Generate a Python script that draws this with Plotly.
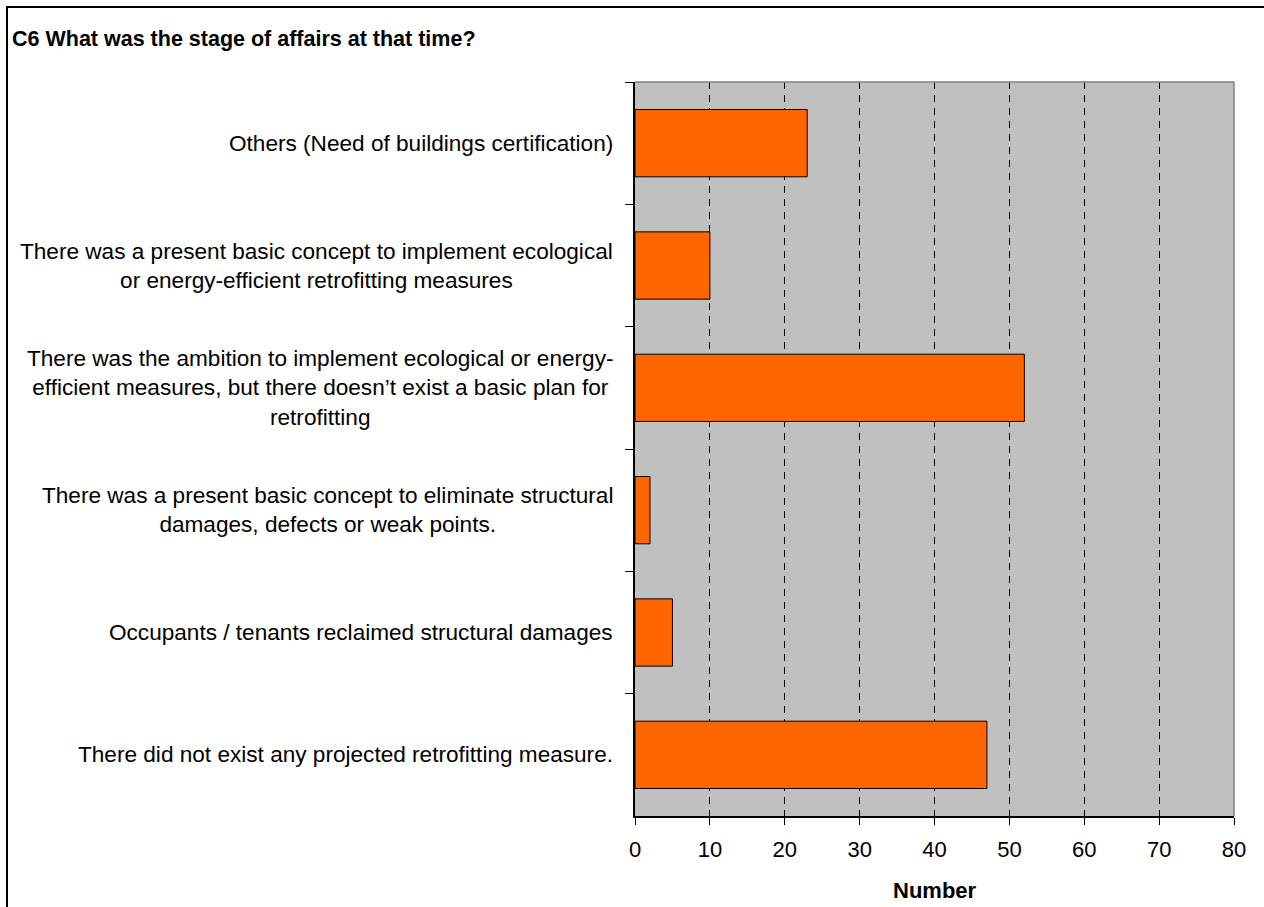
import plotly.graph_objects as go

categories = [
    "Others (Need of buildings certification)",
    "There was a present basic concept to implement ecological<br>or energy-efficient retrofitting measures",
    "There was the ambition to implement ecological or energy-<br>efficient measures, but there doesn\u2019t exist a basic plan for<br>retrofitting",
    "There was a present basic concept to eliminate structural<br>damages, defects or weak points.",
    "Occupants / tenants reclaimed structural damages",
    "There did not exist any projected retrofitting measure.",
]
values = [23, 10, 52, 2, 5, 47]
x_ticks = [0, 10, 20, 30, 40, 50, 60, 70, 80]

FONT = "Liberation Sans, Arial, sans-serif"
W, H = 1264, 907
L, R, T, B = 635, 30, 82, 91
PH = H - T - B
PW = W - L - R

fig = go.Figure()
fig.add_trace(go.Bar(
    x=values, y=categories, orientation="h",
    marker=dict(color="#FF6600", line=dict(color="black", width=1)),
    width=0.55, hoverinfo="x+y",
))

annotations = []
for c in categories:
    annotations.append(dict(
        x=0, xref="paper", y=c, yref="y", xanchor="right", yanchor="middle",
        xshift=-20, text=c, showarrow=False, align="center",
        font=dict(family=FONT, size=22.6, color="black"),
    ))
annotations.append(dict(
    x=0.5, xref="paper", y=-(891 - (H - B)) / PH, yref="paper",
    xanchor="center", yanchor="middle", text="<b>Number</b>", showarrow=False,
    font=dict(family=FONT, size=22, color="black"),
))

shapes = [
    # outer frame
    dict(type="rect", xref="paper", yref="paper",
         x0=(7 - L) / PW, x1=(W + 20 - L) / PW,
         y0=-(H + 20 - (H - B)) / PH, y1=((H - B) - 7) / PH,
         line=dict(color="black", width=2), fillcolor="rgba(0,0,0,0)", layer="above"),
    # top and right plot borders (gray)
    dict(type="line", xref="paper", yref="paper", x0=0, x1=1, y0=1, y1=1,
         line=dict(color="#808080", width=1.5), layer="above"),
    dict(type="line", xref="paper", yref="paper", x0=1, x1=1, y0=0, y1=1,
         line=dict(color="#808080", width=1.5), layer="above"),
]

fig.update_layout(
    width=W, height=H,
    margin=dict(l=L, r=R, t=T, b=B, pad=0),
    paper_bgcolor="white", plot_bgcolor="#C0C0C0",
    showlegend=False,
    font=dict(family=FONT, size=22, color="black"),
    title=dict(text="<b>C6 What was the stage of affairs at that time?</b>",
               x=12 / W, xanchor="left", xref="container",
               y=1 - 38 / H, yanchor="middle", yref="container",
               font=dict(family=FONT, size=21.5, color="black")),
    xaxis=dict(range=[0, 80], tickvals=x_ticks, ticktext=[str(v) for v in x_ticks],
               showgrid=True, gridcolor="black", gridwidth=1, griddash="7px,6px",
               zeroline=False, showline=True, linecolor="black", linewidth=1.5,
               ticks="outside", ticklen=7, tickcolor="black", tickwidth=1,
               ticklabelstandoff=6,
               tickfont=dict(family=FONT, size=22, color="black")),
    yaxis=dict(categoryorder="array", categoryarray=categories, autorange="reversed",
               showticklabels=False, showgrid=False, zeroline=False,
               showline=True, linecolor="black", linewidth=1.5,
               ticks="outside", ticklen=8, tickcolor="black", tickwidth=1,
               tickson="boundaries"),
    annotations=annotations,
    shapes=shapes,
    bargap=0.45,
)

fig.write_html("out.html")
